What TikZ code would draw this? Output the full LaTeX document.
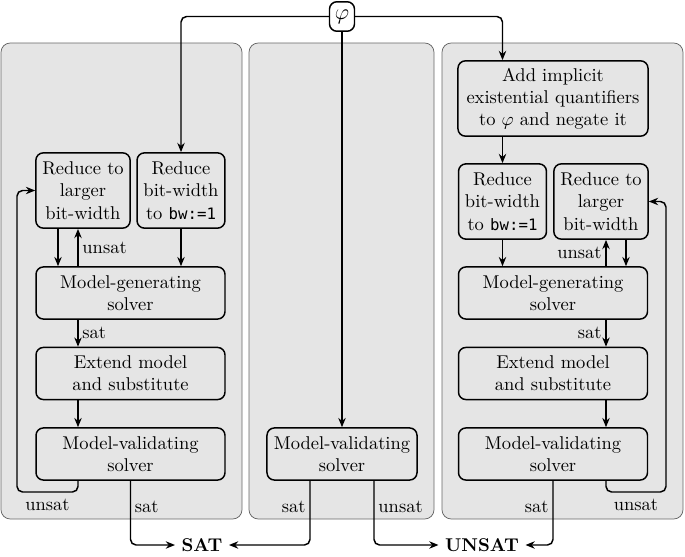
\documentclass[tikz,border=0pt]{standalone}
\usepackage{fontspec}
\usepackage{amsmath}
\newfontfamily\bwfont{DejaVu Sans Mono}[Scale=0.85]
\usetikzlibrary{arrows.meta}
\def\bw{{\bwfont bw:=1}}
\tikzset{
  panel/.style={draw=black!60, fill=black!10, rounded corners=5pt, line width=0.4pt},
  box/.style={draw, fill=black!10, rounded corners=4pt, line width=0.8pt, align=center, inner sep=2pt},
  widebox/.style={box, minimum width=3.59cm, minimum height=0.99cm},
  smallbox/.style={box, minimum height=1.43cm},
  conn/.style={line width=0.8pt, -{Stealth[length=5pt,width=4pt]}, rounded corners=3pt},
  lbl/.style={inner sep=2pt},
}

\begin{document}
\begin{tikzpicture}[x=0.019cm, y=-0.019cm]
	\useasboundingbox (0,0) rectangle (685,557);
	% panels
	\draw[panel] (1,43) rectangle (242,519);
	\draw[panel] (249,43) rectangle (434,519);
	\draw[panel] (442,43) rectangle (683,519);
	% columns for the vertical connectors
	\coordinate (ldn) at (58,0);
	\coordinate (lup) at (78,0);
	\coordinate (lloop) at (17,492);
	\coordinate (msat) at (310,0);
	\coordinate (munsat) at (374,0);
	\coordinate (rup) at (606,0);
	\coordinate (rdn) at (626,0);
	\coordinate (rloop) at (666,492);
	% nodes
	\node[box, fill=white, minimum width=0.475cm, minimum height=0.56cm, inner sep=0pt, rounded corners=4pt] (phi) at (342,16.5) {\large$\varphi$};
	\node[smallbox, minimum width=1.79cm] (lred) at (83,190.5) {Reduce to\\larger\\bit-width};
	\node[smallbox, minimum width=1.67cm] (lbw) at (181,190.5) {Reduce\\bit-width\\to \bw};
	\node[widebox] (lgen) at (130.5,293) {Model-generating\\solver};
	\node[widebox] (lext) at (130.5,373.5) {Extend model\\and substitute};
	\node[widebox] (lval) at (130.5,454) {Model-validating\\solver};
	\node[widebox, minimum width=2.85cm] (mval) at (342,454) {Model-validating\\solver};
	\node[widebox, minimum width=3.61cm, minimum height=1.43cm] (radd) at (553,98.5) {Add implicit\\existential quantifiers\\to $\varphi$ and negate it};
	\node[smallbox, minimum width=1.67cm] (rbw) at (502.5,201.5) {Reduce\\bit-width\\to \bw};
	\node[smallbox, minimum width=1.79cm] (rred) at (601,201.5) {Reduce to\\larger\\bit-width};
	\node[widebox] (rgen) at (553,293) {Model-generating\\solver};
	\node[widebox] (rext) at (553,373.5) {Extend model\\and substitute};
	\node[widebox] (rval) at (553,454) {Model-validating\\solver};
	\node (sat) at (202,545) {\textbf{SAT}};
	\node (unsat) at (482,545) {\textbf{UNSAT}};
	% from phi
	\draw[conn] (phi.west) -| (lbw.north);
	\draw[conn] (phi.east) -| (radd.north -| rbw.north);
	\draw[conn] (phi.south) -- (mval.north);
	% left panel
	\draw[conn] (lred.south -| ldn) -- (lgen.north -| ldn);
	\draw[conn] (lgen.north -| lup) -- node[right, lbl] {unsat} (lred.south -| lup);
	\draw[conn] (lbw.south) -- (lgen.north -| lbw.south);
	\draw[conn] (lgen.south -| lup) -- node[right, lbl] {sat} (lext.north -| lup);
	\draw[conn] (lext.south -| lup) -- (lval.north -| lup);
	\draw[conn] (lval.south -| lup) |- node[below, lbl, pos=0.75, yshift=-1.5pt] {unsat} (lloop) |- (lred.west);
	\draw[conn] (lval.south) |- node[right, lbl, pos=0.2] {sat} (sat.west);
	% middle panel
	\draw[conn] (mval.south -| msat) |- node[left, lbl, pos=0.2] {sat} (sat.east);
	\draw[conn] (mval.south -| munsat) |- node[right, lbl, pos=0.2] {unsat} (unsat.west);
	% right panel
	\draw[conn] (radd.south -| rbw.north) -- (rbw.north);
	\draw[conn] (rbw.south) -- (rgen.north -| rbw.south);
	\draw[conn] (rgen.north -| rup) -- node[left, lbl] {unsat} (rred.south -| rup);
	\draw[conn] (rred.south -| rdn) -- (rgen.north -| rdn);
	\draw[conn] (rgen.south -| rup) -- node[left, lbl] {sat} (rext.north -| rup);
	\draw[conn] (rext.south -| rup) -- (rval.north -| rup);
	\draw[conn] (rval.south -| rup) |- node[below, lbl, pos=0.75, yshift=-1.5pt] {unsat} (rloop) |- (rred.east);
	\draw[conn] (rval.south) |- node[left, lbl, pos=0.2] {sat} (unsat.east);
\end{tikzpicture}
\end{document}
